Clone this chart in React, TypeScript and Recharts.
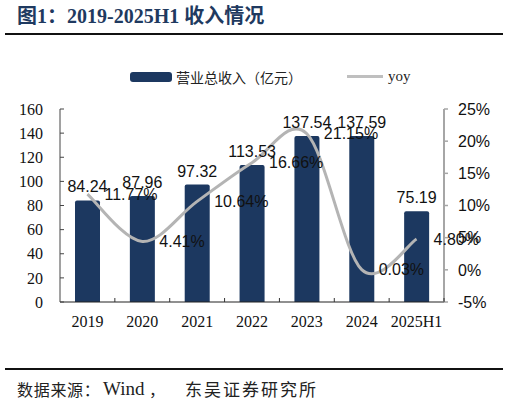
import React from "react";
import { ComposedChart, Bar, Line, XAxis, YAxis, LabelList } from "recharts";

const years = ["2019", "2020", "2021", "2022", "2023", "2024", "2025H1"];
const revenue = [84.24, 87.96, 97.32, 113.53, 137.54, 137.59, 75.19];
const yoy = [11.77, 4.41, 10.64, 16.66, 21.15, 0.03, 4.8];
const leftTicks = [0, 20, 40, 60, 80, 100, 120, 140, 160];
const rightTicks = [-5, 0, 5, 10, 15, 20, 25];

const data = years.map((y, i) => ({ year: y, rev: revenue[i], yoy: yoy[i] }));

const NAVY = "#1c3860";
const GREY = "#b4b4b4";
const SERIF = '"Times New Roman", "Liberation Serif", "Noto Sans CJK SC", serif';
const SANS = 'Arial, "Liberation Sans", sans-serif';
const CJK = '"Noto Sans CJK SC", sans-serif';

const W = 509;
const H = 402;
const PLOT_L = 60;
const PLOT_R = 444;
const PLOT_T = 109;
const PLOT_B = 302;
const BAND = (PLOT_R - PLOT_L) / years.length;

// excel-like smoothed line (catmull-rom through the points)
function smoothCurve(context: any) {
  let pts: number[][] = [];
  return {
    areaStart() {},
    areaEnd() {},
    lineStart() {
      pts = [];
    },
    point(x: number, y: number) {
      pts.push([+x, +y]);
    },
    lineEnd() {
      if (!pts.length) return;
      context.moveTo(pts[0][0], pts[0][1]);
      for (let i = 0; i < pts.length - 1; i++) {
        const p0 = pts[Math.max(i - 1, 0)];
        const p1 = pts[i];
        const p2 = pts[i + 1];
        const p3 = pts[Math.min(i + 2, pts.length - 1)];
        context.bezierCurveTo(
          p1[0] + (p2[0] - p0[0]) / 6,
          p1[1] + (p2[1] - p0[1]) / 6,
          p2[0] - (p3[0] - p1[0]) / 6,
          p2[1] - (p3[1] - p1[1]) / 6,
          p2[0],
          p2[1]
        );
      }
    },
  };
}

function YearTick(props: any) {
  const { x, y, payload } = props;
  const axisY = y - 14;
  return (
    <g>
      <line x1={x + BAND / 2} x2={x + BAND / 2} y1={axisY} y2={axisY - 4} stroke="#333" strokeWidth={1} />
      <text x={x} y={y} dy="0.71em" textAnchor="middle" fontFamily={SERIF} fontSize={16} fill="#111">
        {payload.value}
      </text>
    </g>
  );
}

const srcStyle: React.CSSProperties = {
  position: "absolute",
  top: 378,
  lineHeight: "22px",
  color: "#222",
  whiteSpace: "nowrap",
};

export default function App() {
  return (
    <div style={{ position: "absolute", left: 0, top: 0, width: W, height: H, background: "#fff", overflow: "hidden" }}>
      <div
        style={{
          position: "absolute",
          left: 17,
          top: 4,
          fontFamily: SERIF,
          fontWeight: "bold",
          fontSize: 20,
          color: "#1f3a60",
          whiteSpace: "nowrap",
          lineHeight: "24px",
        }}
      >
        图1：2019-2025H1 收入情况
      </div>
      <div style={{ position: "absolute", left: 5, top: 33, width: 498, height: 2, background: "#111" }} />

      {/* legend */}
      <div style={{ position: "absolute", left: 130, top: 72, width: 42, height: 10, borderRadius: 3, background: NAVY }} />
      <div
        style={{
          position: "absolute",
          left: 176,
          top: 68,
          fontFamily: CJK,
          fontSize: 14,
          lineHeight: "18px",
          color: "#222",
          whiteSpace: "nowrap",
        }}
      >
        营业总收入（亿元）
      </div>
      <div style={{ position: "absolute", left: 347, top: 75, width: 36, height: 3, background: "#bfbfbf" }} />
      <div
        style={{
          position: "absolute",
          left: 388,
          top: 67,
          fontFamily: SERIF,
          fontSize: 15,
          lineHeight: "18px",
          color: "#222",
        }}
      >
        yoy
      </div>

      <div style={{ position: "absolute", left: 0, top: 0 }}>
        <ComposedChart
          width={W}
          height={H}
          data={data}
          margin={{ top: PLOT_T, right: W - PLOT_R - 55, bottom: H - PLOT_B - 30, left: PLOT_L - 40 }}
        >
          <XAxis
            dataKey="year"
            height={30}
            tickLine={false}
            tickSize={0}
            tickMargin={14}
            axisLine={{ stroke: "#222", strokeWidth: 1.2 }}
            tick={<YearTick />}
            interval={0}
          />
          <YAxis
            yAxisId="left"
            width={40}
            domain={[0, 160]}
            ticks={leftTicks}
            tickSize={-4}
            tickMargin={21}
            axisLine={{ stroke: "#444" }}
            tickLine={{ stroke: "#444" }}
            tick={{ fontFamily: SERIF, fontSize: 16, fill: "#111" }}
            interval={0}
          />
          <YAxis
            yAxisId="right"
            orientation="right"
            width={55}
            domain={[-5, 25]}
            ticks={rightTicks}
            tickSize={4}
            tickMargin={10}
            tickFormatter={(v) => `${v}%`}
            axisLine={{ stroke: "#a6a6a6", strokeWidth: 2 }}
            tickLine={{ stroke: "#a6a6a6", strokeWidth: 1.5 }}
            tick={{ fontFamily: SANS, fontSize: 16, fill: "#111" }}
            interval={0}
          />
          <Bar yAxisId="left" dataKey="rev" fill={NAVY} barSize={25} radius={[2, 2, 0, 0]} isAnimationActive={false}>
            <LabelList dataKey="rev" position="top" offset={8} fill="#111" fontSize={16} fontFamily={SANS} />
          </Bar>
          <Line
            yAxisId="right"
            dataKey="yoy"
            type={smoothCurve as any}
            stroke={GREY}
            strokeWidth={3}
            dot={false}
            activeDot={false}
            isAnimationActive={false}
          >
            <LabelList
              dataKey="yoy"
              position="right"
              offset={17}
              fill="#111"
              fontSize={16}
              fontFamily={SANS}
              formatter={(v: any) => `${Number(v).toFixed(2)}%`}
            />
          </Line>
        </ComposedChart>
      </div>

      <div style={{ position: "absolute", left: 5, top: 368, width: 498, height: 2, background: "#111" }} />
      <div style={{ ...srcStyle, left: 17, fontFamily: CJK, fontSize: 16, letterSpacing: 0.7 }}>数据来源：</div>
      <div style={{ ...srcStyle, left: 103, fontFamily: SERIF, fontSize: 19 }}>Wind</div>
      <div style={{ ...srcStyle, left: 149, fontFamily: CJK, fontSize: 16 }}>，</div>
      <div style={{ ...srcStyle, left: 185, fontFamily: CJK, fontSize: 17, letterSpacing: 2 }}>东吴证券研究所</div>
    </div>
  );
}
